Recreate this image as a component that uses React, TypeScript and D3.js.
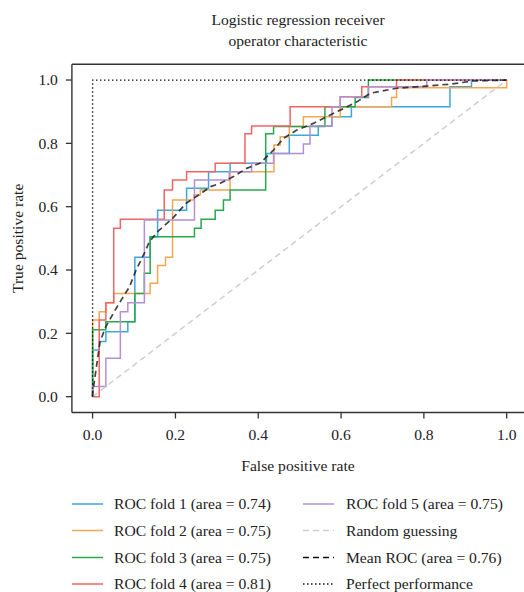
import React from "react";
import * as d3 from "d3";

const W = 524;
const H = 592;

// Step-curve vertices (curveStepAfter): x = false positive rate, y = true positive rate
const fold1Fpr = [0, 0, 0.016, 0.032, 0.085, 0.102, 0.139, 0.157, 0.227, 0.28, 0.332, 0.42, 0.475, 0.545, 0.578, 0.625, 0.863, 0.915, 1];
const fold1Tpr = [0, 0.147, 0.174, 0.205, 0.237, 0.44, 0.505, 0.589, 0.658, 0.71, 0.737, 0.768, 0.826, 0.855, 0.884, 0.916, 0.979, 1, 1];

const fold2Fpr = [0, 0, 0.016, 0.032, 0.051, 0.139, 0.157, 0.176, 0.193, 0.245, 0.26, 0.332, 0.438, 0.453, 0.475, 0.509, 0.598, 0.722, 0.734, 1];
const fold2Tpr = [0, 0.242, 0.268, 0.297, 0.326, 0.358, 0.414, 0.44, 0.621, 0.637, 0.653, 0.71, 0.795, 0.821, 0.853, 0.884, 0.916, 0.945, 0.976, 1];

const fold3Fpr = [0, 0, 0.032, 0.102, 0.125, 0.139, 0.246, 0.262, 0.296, 0.316, 0.332, 0.418, 0.437, 0.561, 0.634, 0.666, 1];
const fold3Tpr = [0, 0.211, 0.237, 0.326, 0.39, 0.505, 0.532, 0.56, 0.589, 0.621, 0.653, 0.83, 0.853, 0.916, 0.945, 1, 1];

const fold4Fpr = [0, 0.016, 0.032, 0.051, 0.067, 0.173, 0.193, 0.227, 0.296, 0.368, 0.384, 0.477, 0.598, 0.65, 0.734, 1];
const fold4Tpr = [0, 0.242, 0.297, 0.532, 0.56, 0.653, 0.684, 0.71, 0.737, 0.83, 0.855, 0.916, 0.947, 0.979, 1, 1];

const fold5Fpr = [0, 0, 0.032, 0.067, 0.085, 0.125, 0.246, 0.33, 0.384, 0.437, 0.509, 0.525, 0.578, 0.598, 0.666, 0.807, 1];
const fold5Tpr = [0, 0.032, 0.121, 0.268, 0.297, 0.558, 0.684, 0.71, 0.737, 0.768, 0.798, 0.855, 0.916, 0.947, 0.979, 1, 1];

// Mean ROC
const meanFpr = [0, 0.0, 0.018, 0.032, 0.052, 0.069, 0.089, 0.105, 0.125, 0.137, 0.157, 0.193, 0.226, 0.262, 0.284, 0.308, 0.34, 0.372, 0.404, 0.437, 0.461, 0.493, 0.533, 0.565, 0.598, 0.638, 0.67, 0.734, 0.807, 0.863, 0.92, 1];
const meanTpr = [0, 0.01, 0.174, 0.221, 0.268, 0.305, 0.347, 0.4, 0.453, 0.489, 0.521, 0.563, 0.611, 0.642, 0.663, 0.674, 0.695, 0.721, 0.737, 0.779, 0.816, 0.842, 0.863, 0.884, 0.905, 0.931, 0.958, 0.974, 0.981, 0.987, 0.997, 1];

const randomFpr = [0, 1];
const randomTpr = [0, 1];
const perfectFpr = [0, 0, 1];
const perfectTpr = [0, 1, 1];

const foldLabels = [
  "ROC fold 1 (area = 0.74)",
  "ROC fold 2 (area = 0.75)",
  "ROC fold 3 (area = 0.75)",
  "ROC fold 4 (area = 0.81)",
  "ROC fold 5 (area = 0.75)",
];
const foldColors = ["#3aa8dc", "#f6a553", "#2aa84c", "#f26464", "#b48fd4"];
const otherLabels = ["Random guessing", "Mean ROC (area = 0.76)", "Perfect performance"];

const xTicks = [0, 0.2, 0.4, 0.6, 0.8, 1.0];
const yTicks = [0, 0.2, 0.4, 0.6, 0.8, 1.0];

const FONT = "'Liberation Serif', 'Times New Roman', serif";

export default function App() {
  const x = d3.scaleLinear().domain([-0.05, 1.05]).range([71.9, 527.4]);
  const y = d3.scaleLinear().domain([-0.05, 1.05]).range([412.5, 64.2]);

  const stepLine = (xs: number[], ys: number[]) =>
    d3
      .line<number>()
      .x((_, i) => x(xs[i]))
      .y((d) => y(d))
      .curve(d3.curveStepAfter)(ys) || "";
  const plainLine = (xs: number[], ys: number[]) =>
    d3
      .line<number>()
      .x((_, i) => x(xs[i]))
      .y((d) => y(d))(ys) || "";

  const folds = [
    [fold1Fpr, fold1Tpr],
    [fold2Fpr, fold2Tpr],
    [fold3Fpr, fold3Tpr],
    [fold4Fpr, fold4Tpr],
    [fold5Fpr, fold5Tpr],
  ];

  const x0 = x(-0.05);
  const x1 = x(1.05);
  const yTop = y(1.05);
  const yBot = y(-0.05);

  const legendRows = [504, 530.5, 557.5, 584];
  const col1Line = [72, 103];
  const col1Text = 114;
  const col2Line = [303, 334];
  const col2Text = 346;

  const col2Items = [
    { label: foldLabels[4], color: foldColors[4], dash: "none", width: 1.5 },
    { label: otherLabels[0], color: "#cfcfcf", dash: "6,4", width: 1.5 },
    { label: otherLabels[1], color: "#111", dash: "6,4", width: 1.7 },
    { label: otherLabels[2], color: "#111", dash: "1.5,2.5", width: 1.3 },
  ];

  const FS = 15.6;

  return (
    <svg
      width={W}
      height={H}
      style={{ position: "absolute", left: 0, top: 0, background: "#fff" }}
      fontFamily={FONT}
    >
      <rect x={0} y={0} width={W} height={H} fill="#fff" />
      {/* Title */}
      <text x={298} y={25} textAnchor="middle" fontSize={FS} fill="#222">
        Logistic regression receiver
      </text>
      <text x={298} y={46} textAnchor="middle" fontSize={FS} fill="#222">
        operator characteristic
      </text>

      {/* Curves */}
      <g fill="none">
        {folds.map(([xs, ys], i) => (
          <path key={i} d={stepLine(xs, ys)} stroke={foldColors[i]} strokeWidth={1.5} />
        ))}
        <path d={plainLine(randomFpr, randomTpr)} stroke="#cfcfcf" strokeWidth={1.5} strokeDasharray="6,4" />
        <path d={plainLine(meanFpr, meanTpr)} stroke="#222" strokeWidth={1.7} strokeDasharray="6,4" opacity={0.85} />
        <path d={plainLine(perfectFpr, perfectTpr)} stroke="#111" strokeWidth={1.3} strokeDasharray="1.5,2.5" />
      </g>

      {/* Frame */}
      <g stroke="#333" strokeWidth={1.4} fill="none">
        <line x1={x0} x2={x1} y1={yTop} y2={yTop} />
        <line x1={x0} x2={x1} y1={yBot} y2={yBot} />
        <line x1={x0} x2={x0} y1={yTop} y2={yBot} />
        <line x1={x1} x2={x1} y1={yTop} y2={yBot} />
      </g>

      {/* X ticks */}
      {xTicks.map((t) => (
        <g key={"x" + t}>
          <line x1={x(t)} x2={x(t)} y1={yBot} y2={yBot + 6} stroke="#333" strokeWidth={1.3} />
          <text x={x(t)} y={yBot + 27} textAnchor="middle" fontSize={FS} fill="#222">
            {t.toFixed(1)}
          </text>
        </g>
      ))}
      {/* Y ticks */}
      {yTicks.map((t) => (
        <g key={"y" + t}>
          <line x1={x0 - 6} x2={x0} y1={y(t)} y2={y(t)} stroke="#333" strokeWidth={1.3} />
          <text x={x0 - 14} y={y(t)} dy="0.35em" textAnchor="end" fontSize={FS} fill="#222">
            {t.toFixed(1)}
          </text>
        </g>
      ))}

      {/* Axis labels */}
      <text x={298} y={471} textAnchor="middle" fontSize={FS} fill="#222">
        False positive rate
      </text>
      <text
        transform={`translate(23, ${(yTop + yBot) / 2}) rotate(-90)`}
        textAnchor="middle"
        fontSize={FS}
        fill="#222"
      >
        True positive rate
      </text>

      {/* Legend column 1 */}
      {foldLabels.slice(0, 4).map((lab, i) => (
        <g key={"l1" + i}>
          <line x1={col1Line[0]} x2={col1Line[1]} y1={legendRows[i]} y2={legendRows[i]} stroke={foldColors[i]} strokeWidth={1.5} />
          <text x={col1Text} y={legendRows[i]} dy="0.35em" fontSize={FS} fill="#222">
            {lab}
          </text>
        </g>
      ))}
      {/* Legend column 2 */}
      {col2Items.map((it, i) => (
        <g key={"l2" + i}>
          <line
            x1={col2Line[0]}
            x2={col2Line[1]}
            y1={legendRows[i]}
            y2={legendRows[i]}
            stroke={it.color}
            strokeWidth={it.width}
            strokeDasharray={it.dash}
          />
          <text x={col2Text} y={legendRows[i]} dy="0.35em" fontSize={FS} fill="#222">
            {it.label}
          </text>
        </g>
      ))}
    </svg>
  );
}
